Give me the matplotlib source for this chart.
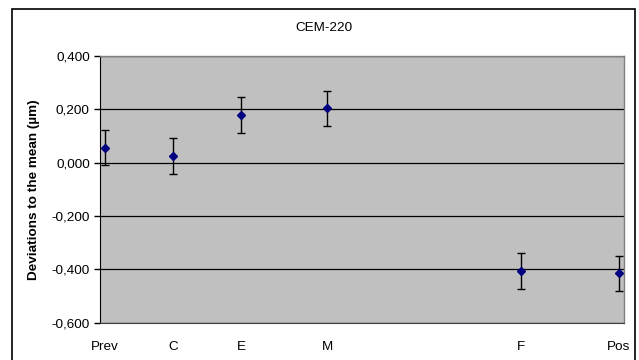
import matplotlib
matplotlib.use("Agg")
import matplotlib.pyplot as plt
from matplotlib.ticker import FuncFormatter, MultipleLocator
from matplotlib.patches import Rectangle

plt.rcParams['font.family'] = ['Liberation Sans', 'DejaVu Sans']

labels = ["Prev", "C", "E", "M", "F", "Pos"]
x_vals = [0, 7, 14, 22.85, 42.85, 52.85]
means = [0.056, 0.025, 0.179, 0.204, -0.406, -0.415]
errors = [0.066, 0.066, 0.067, 0.066, 0.067, 0.066]

W, H = 639, 360
fig = plt.figure(figsize=(W / 100, H / 100), dpi=100)
fig.patch.set_facecolor('white')

left, right, top, bottom = 99.5, 624, 56, 322.7
ax = fig.add_axes([left / W, 1 - bottom / H, (right - left) / W, (bottom - top) / H])
ax.set_facecolor('#C0C0C0')

ax.errorbar(x_vals, means, yerr=errors, fmt='D', color='#000080', markersize=4.2,
            ecolor='black', elinewidth=1, capsize=3, capthick=1, zorder=3)

ax.set_ylim(-0.6, 0.4)
ax.set_xlim(-0.56, 53.4)
ax.yaxis.set_major_locator(MultipleLocator(0.2))
ax.yaxis.set_major_formatter(FuncFormatter(lambda v, p: f"{v:.3f}".replace('.', ',').replace('-0,000', '0,000')))
ax.grid(axis='y', color='black', linewidth=0.9)
ax.set_axisbelow(True)

fs = 9.7
ax.set_xticks(x_vals)
ax.set_xticklabels(labels)
ax.tick_params(axis='x', length=0, pad=13, labelsize=fs)
ax.tick_params(axis='y', length=4, width=1, labelsize=fs, pad=3, direction='out')

for s in ['top', 'right']:
    ax.spines[s].set_color('#808080')
    ax.spines[s].set_linewidth(1)
ax.spines['left'].set_color('black')
ax.spines['bottom'].set_color('#404040')

ax.set_ylabel("Deviations to the mean (µm)", fontsize=fs, fontweight='bold', labelpad=8)

fig.text(323.5 / W, 1 - 28 / H, "CEM-220", ha='center', va='center', fontsize=fs)

fig.patches.append(Rectangle((12 / W, -10 / H), (634.5 - 12) / W, (361 - 0) / H,
                             transform=fig.transFigure, fill=False,
                             edgecolor='black', linewidth=1.2))

fig.savefig("out.png", dpi=100)
